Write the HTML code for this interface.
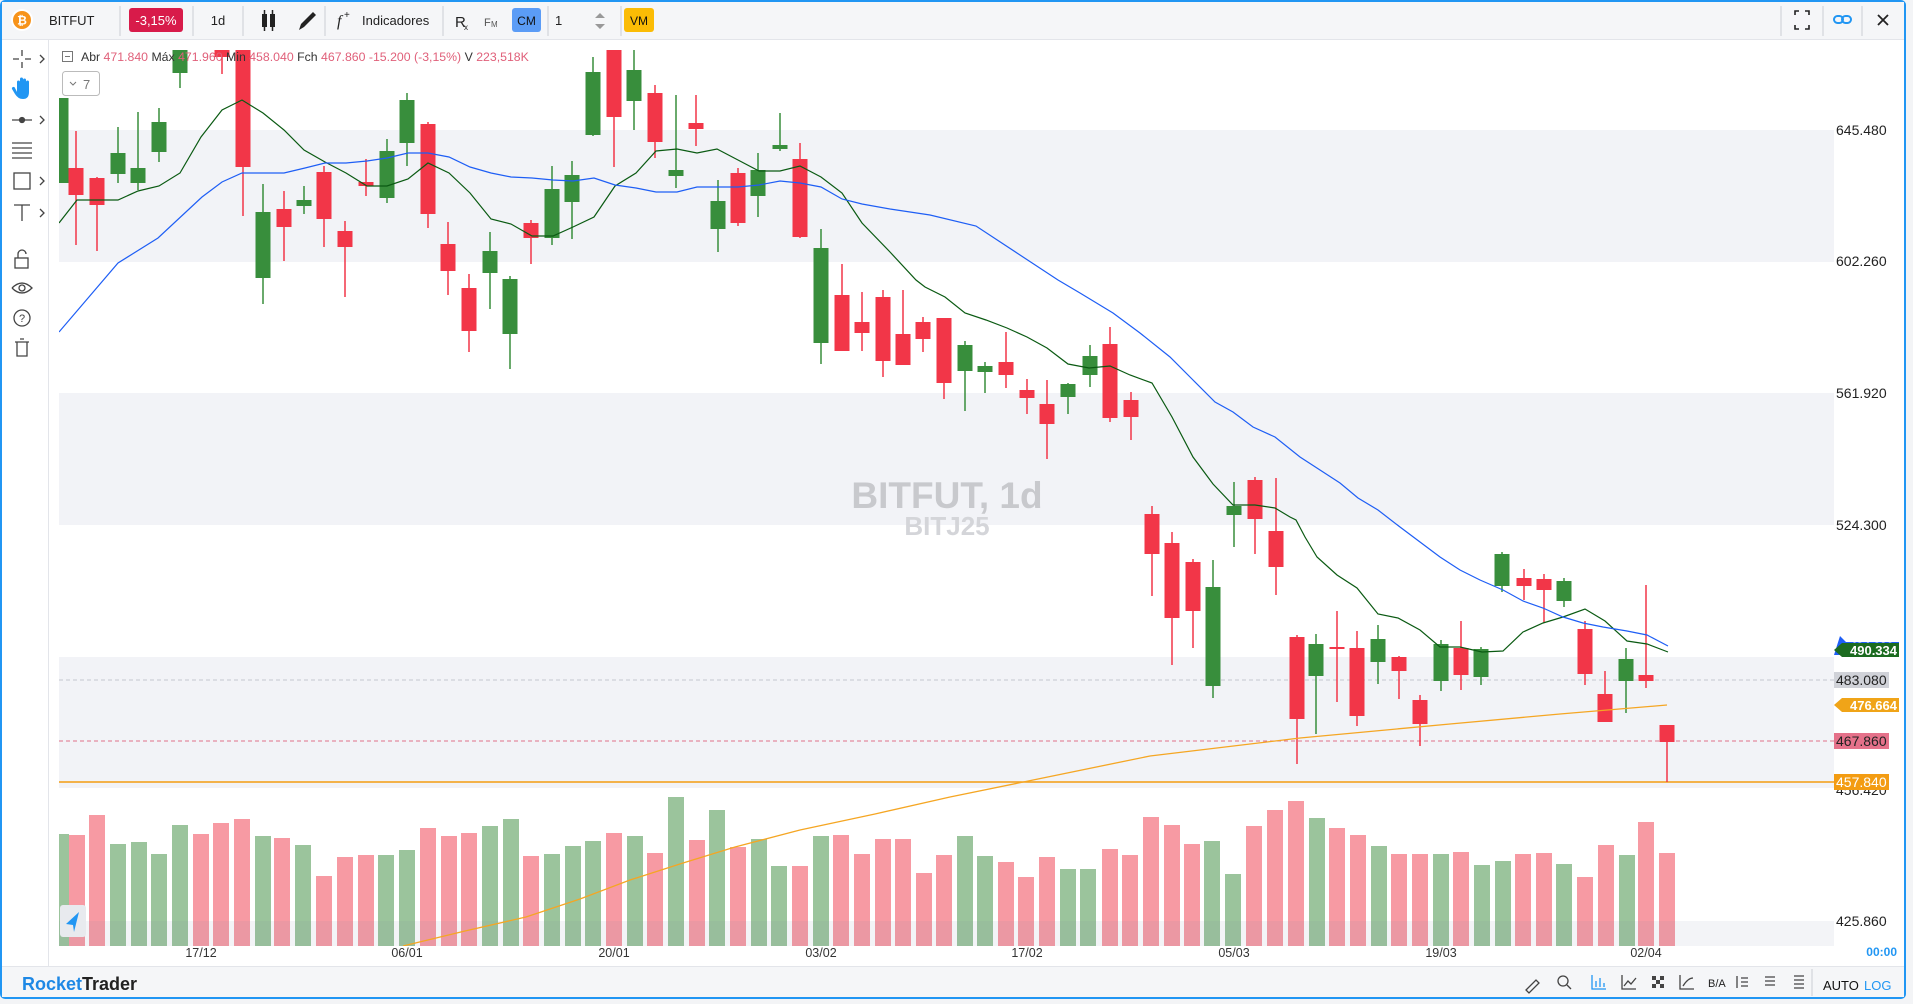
<!DOCTYPE html>
<html><head><meta charset="utf-8">
<style>
html,body{margin:0;padding:0;background:#fff;width:1913px;height:1004px;overflow:hidden;font-family:"Liberation Sans",sans-serif;}
svg{display:block}
</style></head>
<body>
<svg id="s" width="1913" height="1004" viewBox="0 0 1913 1004" xmlns="http://www.w3.org/2000/svg" font-family="Liberation Sans, sans-serif">
<defs>
<clipPath id="cp"><rect x="59" y="49" width="1775" height="897"/></clipPath>
</defs>
<rect x="0" y="0" width="1913" height="1004" fill="#f3f4f6"/>
<rect x="1" y="1" width="1904" height="997" rx="4" fill="#fff" stroke="#2196f3" stroke-width="2"/>
<!-- top toolbar -->
<rect x="2" y="2" width="1902" height="37" fill="#f5f6f8"/>
<line x1="2" y1="39.5" x2="1904" y2="39.5" stroke="#e3e5ea"/>
<g stroke="#e0e2e6" stroke-width="2">
<line x1="120" y1="6" x2="120" y2="36"/><line x1="193" y1="6" x2="193" y2="36"/><line x1="243" y1="6" x2="243" y2="36"/>
<line x1="325" y1="6" x2="325" y2="36"/><line x1="443" y1="6" x2="443" y2="36"/><line x1="548" y1="6" x2="548" y2="36"/><line x1="621" y1="6" x2="621" y2="36"/>
<line x1="1781" y1="6" x2="1781" y2="36"/><line x1="1823" y1="6" x2="1823" y2="36"/><line x1="1862" y1="6" x2="1862" y2="36"/>
</g>
<circle cx="22" cy="20" r="11" fill="#fff"/>
<circle cx="22" cy="20" r="9" fill="#f7931a"/>
<text x="22" y="24.5" font-size="12" font-weight="bold" fill="#fff" text-anchor="middle">₿</text>
<text x="49" y="25" font-size="13" fill="#222">BITFUT</text>
<rect x="129" y="8" width="54" height="24" rx="3" fill="#d81b4a"/>
<text x="156" y="25" font-size="13" fill="#fff" text-anchor="middle">-3,15%</text>
<text x="218" y="25" font-size="13" fill="#222" text-anchor="middle">1d</text>
<g fill="#222"><rect x="262" y="14" width="5" height="13"/><line x1="264.5" y1="10" x2="264.5" y2="31" stroke="#222" stroke-width="1.5"/><rect x="270" y="14" width="5" height="13"/><line x1="272.5" y1="10" x2="272.5" y2="31" stroke="#222" stroke-width="1.5"/></g>
<path d="M299 30 L301 24 L313 12 L316 15 L304 27 Z" fill="#222"/>
<text x="337" y="26" font-size="16" font-style="italic" font-family="Liberation Serif, serif" fill="#222">f</text>
<text x="344" y="18" font-size="10" fill="#222">+</text>
<text x="362" y="25" font-size="13" fill="#222">Indicadores</text>
<text x="455" y="27" font-size="15" fill="#222">R</text><text x="464" y="30" font-size="8" fill="#222">x</text>
<text x="484" y="26" font-size="11" fill="#555">F</text><text x="491" y="27" font-size="8" fill="#555">M</text>
<rect x="512" y="8" width="29" height="24" rx="3" fill="#5b9cf6"/>
<text x="526.5" y="25" font-size="12" fill="#111" text-anchor="middle">CM</text>
<text x="555" y="25" font-size="13" fill="#222">1</text>
<path d="M595 18 L600 13 L605 18 Z M595 24 L600 29 L605 24 Z" fill="#999"/>
<rect x="624" y="8" width="30" height="24" rx="3" fill="#fbbc05"/>
<text x="639" y="25" font-size="12" fill="#111" text-anchor="middle">VM</text>
<g stroke="#222" stroke-width="1.6" fill="none">
<path d="M1795 15 v-4 h4 M1805 11 h4 v4 M1809 25 v4 h-4 M1799 29 h-4 v-4"/>
</g>
<g stroke="#2196f3" stroke-width="2" fill="none"><rect x="1834" y="16" width="9" height="7" rx="3.5"/><rect x="1842" y="16" width="9" height="7" rx="3.5"/></g>
<path d="M1878 15 L1888 25 M1888 15 L1878 25" stroke="#222" stroke-width="1.8"/>
<!-- left toolbar -->
<line x1="48.5" y1="40" x2="48.5" y2="966" stroke="#e3e5ea"/>
<g stroke="#444" stroke-width="1.3" fill="none">
<path d="M13 59 h6 M25 59 h6 M22 50 v6 M22 62 v6"/>
<path d="M40 55 l4 4 l-4 4 M40 116 l4 4 l-4 4 M40 177 l4 4 l-4 4 M40 209 l4 4 l-4 4"/>
<path d="M12 120 h20"/><circle cx="22" cy="120" r="2.5" fill="#444"/>
<path d="M12 143 h20 M12 148 h20 M12 153 h20 M12 158 h20"/>
<rect x="14" y="173" width="16" height="16"/>
<path d="M14 205 h16 M22 205 v16"/>
<rect x="15" y="258" width="13" height="10"/><path d="M18 258 v-4 a4 4 0 0 1 8 0"/>
<path d="M12 288 q10 -10 20 0 q-10 10 -20 0"/><circle cx="22" cy="288" r="3"/>
<circle cx="22" cy="318" r="8"/>
<path d="M15 342 h14 M17 342 v14 h10 v-14 M20 339 h4"/>
</g>
<path d="M17 92 v-10 a1.5 1.5 0 0 1 3 0 v-3 a1.5 1.5 0 0 1 3 0 v1 a1.5 1.5 0 0 1 3 0 v2 a1.5 1.5 0 0 1 3 0 v10 q0 7 -6 7 q-5 0 -8 -5 l-3 -5 a1.5 1.5 0 0 1 3 -1 z" fill="#2196f3"/>
<text x="22" y="322" font-size="11" fill="#444" text-anchor="middle">?</text>
<!-- chart bands -->
<g fill="#f2f3f7">
<rect x="59" y="130" width="1775" height="132"/>
<rect x="59" y="393" width="1775" height="132"/>
<rect x="59" y="657" width="1775" height="131"/>
</g>
<g id="vol" clip-path="url(#cp)"></g>
<rect x="59" y="921" width="1775" height="25" fill="#7a86a8" fill-opacity="0.09"/>
<!-- watermark -->
<text x="947" y="508" font-size="37" font-weight="bold" fill="#c8c9cd" text-anchor="middle">BITFUT, 1d</text>
<text x="947" y="535" font-size="26" font-weight="bold" fill="#d4d5d9" text-anchor="middle">BITJ25</text>
<!-- level lines -->
<line x1="59" y1="680" x2="1834" y2="680" stroke="#c4c7cf" stroke-dasharray="4,3"/>
<line x1="59" y1="741" x2="1834" y2="741" stroke="#e0708a" stroke-dasharray="4,3"/>
<line x1="59" y1="782" x2="1834" y2="782" stroke="#f39c12" stroke-width="1.5"/>
<g id="candles" clip-path="url(#cp)"></g>
<g clip-path="url(#cp)" fill="none">
<polyline id="mao" stroke="#f5a623" stroke-width="1.3" points="403,946 465,931 526,917 580,899 630,880 683,863 735,847 800,830 875,814 950,797 1038,779 1150,756 1300,738 1450,724 1560,714 1667,705"/>
<polyline stroke="#0a5a12" stroke-width="1.2" points="59,223 77,200 118,200 138,191 159,186 180,173 201,137 222,110 242,100 263,113 284,130 304,150 325,162 346,173 367,186 387,186 408,179 428,163 449,173 470,193 491,219 511,224 532,236 553,236 573,227 594,217 615,186 636,173 656,151 677,149 697,153 717,149 738,160 759,171 780,171 800,166 821,177 842,193 862,223 890,252 916,280 925,287 945,297 965,313 986,320 1007,328 1027,337 1047,348 1068,364 1089,368 1110,366 1130,375 1152,383 1172,417 1193,457 1213,484 1233,505 1255,505 1275,508 1290,517 1296,520 1305,537 1317,557 1337,575 1357,588 1378,614 1398,618 1420,630 1440,647 1460,647 1482,652 1503,651 1523,632 1543,623 1563,617 1585,609 1605,621 1627,641 1647,644 1668,652"/>
<polyline stroke="#1e5ef5" stroke-width="1.2" points="59,332 118,263 158,238 202,197 222,182 242,173 263,173 284,173 305,168 325,163 346,163 367,161 387,158 408,153 428,153 449,157 470,167 491,173 511,177 532,178 553,180 573,181 594,178 615,185 636,188 656,192 677,192 697,187 717,187 738,187 759,185 780,181 800,183 821,187 842,199 862,204 890,209 930,215 976,226 1020,255 1058,280 1080,293 1113,313 1140,333 1170,357 1193,380 1215,402 1233,412 1253,427 1275,437 1300,457 1320,470 1340,483 1358,498 1378,510 1400,527 1420,542 1440,557 1460,570 1480,580 1503,590 1523,601 1543,608 1563,617 1583,623 1603,627 1627,631 1647,635 1668,646"/>
</g>
<!-- legend -->
<rect x="62.5" y="51.5" width="10" height="10" fill="#fff" stroke="#777"/>
<line x1="65" y1="56.5" x2="70" y2="56.5" stroke="#777"/>
<text x="81" y="61" font-size="12.3" fill="#e0607a" xml:space="preserve"><tspan fill="#333">Abr</tspan> 471.840 <tspan fill="#333">Máx</tspan> 471.960 <tspan fill="#333">Min</tspan> 458.040 <tspan fill="#333">Fch</tspan> 467.860 -15.200 (-3,15%) <tspan fill="#333">V</tspan> 223,518K</text>
<rect x="62.5" y="71.5" width="37" height="24" rx="3" fill="#fff" stroke="#bbb"/>
<path d="M70 82 l3 3 l3 -3" stroke="#777" fill="none"/>
<text x="83" y="89" font-size="13" fill="#777">7</text>
<!-- nav button -->
<rect x="60" y="905" width="26" height="32" rx="3" fill="#e8eaee"/>
<path d="M79 912 L66 924 L73 925 L74 932 Z" fill="#2196f3"/>
<!-- price axis -->
<g font-size="14" fill="#222">
<text x="1836" y="135">645.480</text>
<text x="1836" y="266">602.260</text>
<text x="1836" y="398">561.920</text>
<text x="1836" y="530">524.300</text>
<text x="1836" y="795">456.420</text>
<text x="1836" y="926">425.860</text>
</g>
<path d="M1840 636 L1846 642 L1899 642 L1899 655 L1834 655 Z" fill="#1e5ef5"/>
<text x="1850" y="651" font-size="12" font-weight="bold" fill="#fff">494.690</text>
<path d="M1834 650 L1842 643 L1899 643 L1899 657 L1842 657 Z" fill="#1b6b1f"/>
<text x="1850" y="655" font-size="13" font-weight="bold" fill="#fff">490.334</text>
<rect x="1834" y="672" width="55" height="16" fill="#d0d2d8"/>
<text x="1836" y="685" font-size="14" fill="#222">483.080</text>
<path d="M1834 705 L1842 698 L1899 698 L1899 712 L1842 712 Z" fill="#f0a418"/>
<text x="1850" y="710" font-size="13" font-weight="bold" fill="#fff">476.664</text>
<rect x="1834" y="733" width="55" height="16" fill="#e5718a"/>
<text x="1836" y="746" font-size="14" fill="#222">467.860</text>
<rect x="1834" y="774" width="55" height="16" fill="#f39c12"/>
<text x="1836" y="787" font-size="14" fill="#fff">457.840</text>
<text x="1897" y="956" font-size="12" font-weight="bold" fill="#2196f3" text-anchor="end">00:00</text>
<!-- time axis -->
<g font-size="12.5" fill="#333" text-anchor="middle">
<text x="201" y="957">17/12</text><text x="407" y="957">06/01</text><text x="614" y="957">20/01</text><text x="821" y="957">03/02</text>
<text x="1027" y="957">17/02</text><text x="1234" y="957">05/03</text><text x="1441" y="957">19/03</text><text x="1646" y="957">02/04</text>
</g>
<!-- bottom bar -->
<rect x="2" y="967" width="1902" height="30" fill="#f5f6f8"/>
<line x1="2" y1="966.5" x2="1904" y2="966.5" stroke="#e3e5ea"/>
<text x="22" y="990" font-size="18" font-weight="bold" fill="#1e88e5">Rocket<tspan fill="#222">Trader</tspan></text>
<g stroke="#444" stroke-width="1.3" fill="none">
<path d="M1526 990 l10 -10 l3 3 l-10 10 z"/>
<circle cx="1563" cy="981" r="5"/><path d="M1567 985 l4 4"/>
<path d="M1592 975 v14 h14 M1596 987 v-6 M1600 987 v-9 M1604 987 v-4" stroke="#2196f3"/>
<path d="M1622 975 v14 h14 M1624 986 l4 -5 l3 3 l5 -6"/>
<path d="M1680 975 v14 h14 M1683 986 q5 -8 10 -8"/>
<path d="M1737 976 v12 M1741 978 h7 M1741 982 h7 M1741 986 h7"/>
<path d="M1765 977 h10 M1765 981 h10 M1765 985 h10"/>
<path d="M1794 976 h10 M1794 980 h10 M1794 984 h10 M1794 988 h10"/>
</g>
<g fill="#444"><rect x="1652" y="976" width="4" height="4"/><rect x="1660" y="976" width="4" height="4"/><rect x="1656" y="980" width="4" height="4"/><rect x="1652" y="984" width="4" height="4"/><rect x="1660" y="984" width="4" height="4"/></g>
<text x="1708" y="987" font-size="11" fill="#222">B/A</text>
<line x1="1812" y1="969" x2="1812" y2="996" stroke="#e0e2e6" stroke-width="2"/>
<text x="1823" y="990" font-size="13" fill="#111">AUTO</text>
<text x="1864" y="990" font-size="13" fill="#2196f3">LOG</text>
<script>
var C=[[61,98,183,98,183,1],[76,168,195,131,245,0],[97,178,205,177,251,0],[118,153,174,127,183,1],[138,168,183,112,190,1],[159,122,152,108,162,1],[180,50,73,50,88,1],[201,20,30,20,40,0],[222,50,57,50,74,0],[243,50,167,50,216,0],[263,212,278,184,304,1],[284,209,227,191,261,0],[304,200,206,186,214,1],[324,172,219,166,247,0],[345,231,247,221,297,0],[366,182,186,159,196,0],[387,151,198,139,203,1],[407,100,143,93,166,1],[428,124,214,122,228,0],[448,244,271,222,295,0],[469,288,331,274,352,0],[490,251,273,232,309,1],[510,279,334,276,369,1],[531,223,238,220,264,0],[552,189,238,166,245,1],[572,175,202,161,239,1],[593,72,135,57,136,1],[614,50,117,50,167,0],[634,70,101,50,130,1],[655,93,142,85,158,0],[676,170,176,95,188,1],[696,123,129,95,146,0],[718,201,229,180,252,1],[738,173,223,168,226,0],[758,170,196,153,217,1],[780,145,149,113,151,1],[800,159,237,143,238,0],[821,248,343,229,364,1],[842,295,351,264,351,0],[862,322,333,292,351,0],[883,297,361,290,377,0],[903,334,365,290,365,0],[923,322,339,317,352,0],[944,318,383,318,399,0],[965,345,371,341,411,1],[985,366,372,362,393,1],[1006,362,375,332,388,0],[1027,390,398,379,414,0],[1047,404,424,380,459,0],[1068,384,397,383,414,1],[1090,356,375,345,387,1],[1110,344,418,327,422,0],[1131,400,417,392,440,0],[1152,514,554,506,596,0],[1172,543,618,532,665,0],[1193,562,611,559,648,0],[1213,587,686,560,698,1],[1234,506,515,482,547,1],[1255,480,519,477,554,0],[1276,531,567,478,595,0],[1297,637,719,635,764,0],[1316,644,676,634,734,1],[1337,647,648,611,702,0],[1357,648,716,631,726,0],[1378,639,662,625,684,1],[1399,657,671,656,699,0],[1420,700,724,695,746,0],[1441,644,681,640,691,1],[1461,648,675,621,690,0],[1481,649,677,647,685,1],[1502,554,586,552,592,1],[1524,578,586,569,600,0],[1544,579,590,574,623,0],[1564,581,601,578,607,1],[1585,629,674,621,685,0],[1605,694,722,671,722,0],[1626,659,681,648,713,1],[1646,675,681,585,688,0],[1667,725,742,725,782,0]];
var V=[[61,834,1],[77,835,0],[97,815,0],[118,844,1],[139,842,1],[159,854,1],[180,825,1],[201,834,0],[221,823,0],[242,819,0],[263,836,1],[282,838,0],[303,845,1],[324,876,0],[345,857,0],[366,855,0],[386,855,1],[407,850,1],[428,828,0],[449,836,0],[469,833,0],[490,826,1],[511,819,1],[531,856,0],[552,854,1],[573,846,1],[593,841,1],[614,833,0],[635,836,1],[655,853,0],[676,797,1],[697,840,0],[717,810,1],[738,847,0],[759,839,1],[779,866,1],[800,866,0],[821,836,1],[841,835,0],[862,854,0],[883,839,0],[903,839,0],[924,873,0],[944,855,0],[965,836,1],[985,856,1],[1006,862,0],[1026,877,0],[1047,857,0],[1068,869,1],[1088,869,1],[1110,849,0],[1130,855,0],[1151,817,0],[1172,825,0],[1192,844,0],[1212,841,1],[1233,874,1],[1254,826,0],[1275,810,0],[1296,801,0],[1317,818,1],[1337,828,0],[1358,835,0],[1379,846,1],[1399,854,0],[1420,854,0],[1441,854,1],[1461,852,0],[1482,865,1],[1503,861,1],[1523,854,0],[1544,853,0],[1564,864,1],[1585,877,0],[1606,845,0],[1627,855,1],[1646,822,0],[1667,853,0]];
var NS="http://www.w3.org/2000/svg";
function el(p,t,a){var e=document.createElementNS(NS,t);for(var k in a)e.setAttribute(k,a[k]);p.appendChild(e);return e;}
var vg=document.getElementById("vol"),cg=document.getElementById("candles");
V.forEach(function(v){el(vg,"rect",{x:v[0]-8,y:v[1],width:16,height:946-v[1],fill:v[2]?"#9bc49c":"#f79aa3"});});
C.forEach(function(c){var col=c[5]?"#388e3c":"#f23648";
el(cg,"rect",{x:c[0]-0.75,y:c[3],width:1.5,height:Math.max(1,c[4]-c[3]),fill:col});
el(cg,"rect",{x:c[0]-7.5,y:c[1],width:15,height:Math.max(2,c[2]-c[1]),fill:col});});
</script>
</svg>
</body></html>
